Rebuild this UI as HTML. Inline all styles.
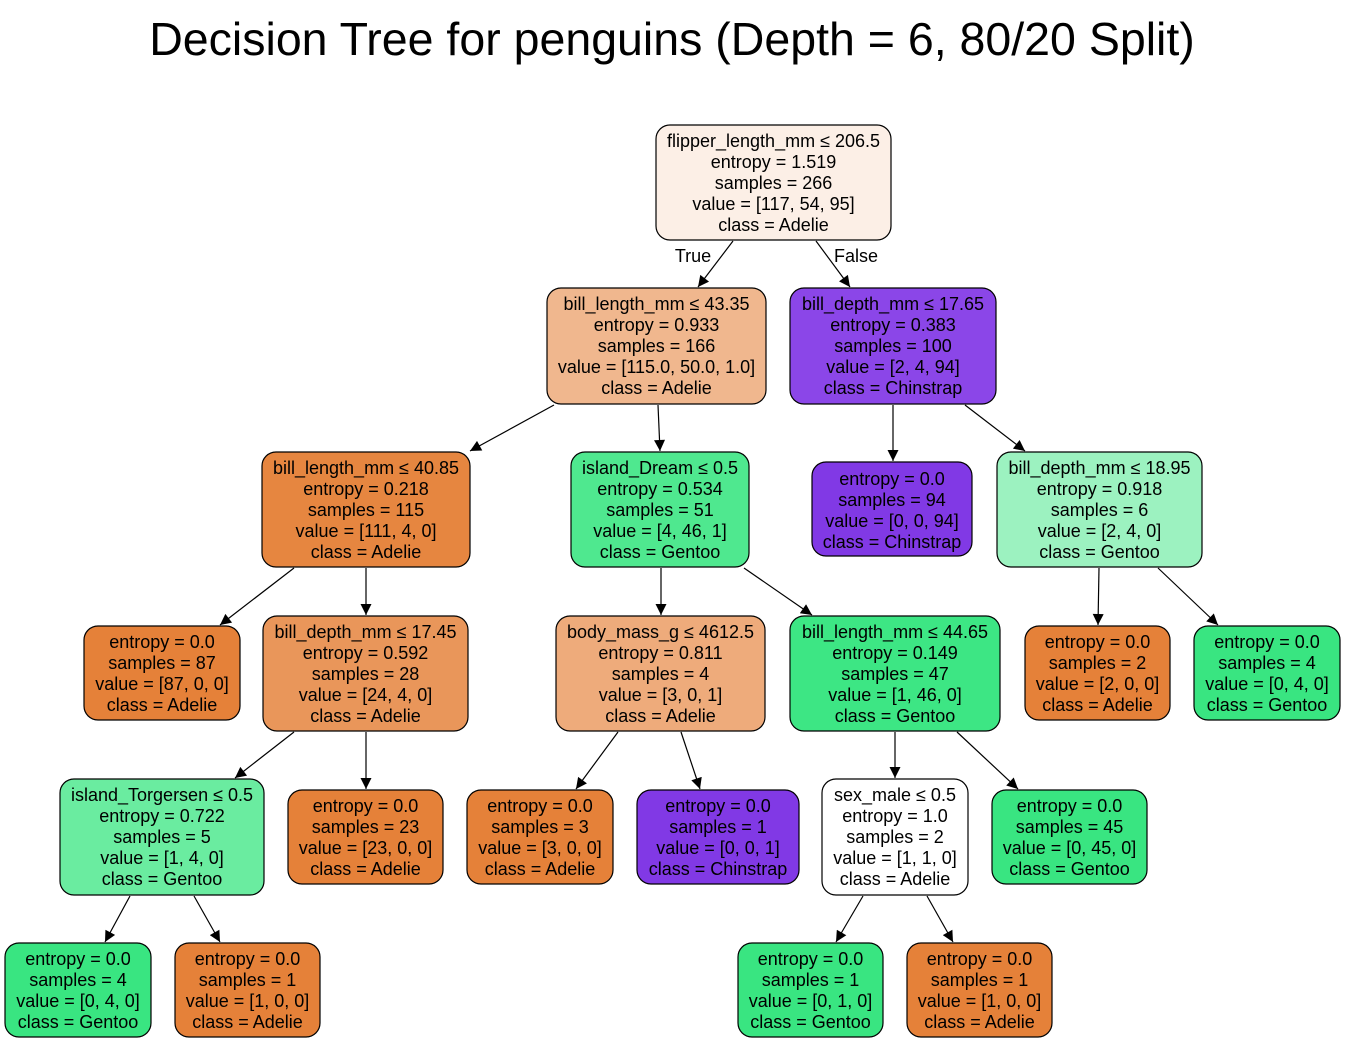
<!DOCTYPE html>
<html><head><meta charset="utf-8"><style>
html,body{margin:0;padding:0;background:#fff;width:1345px;height:1043px;overflow:hidden}
svg text{font-family:"Liberation Sans",Arial,sans-serif}
.n text{font-size:18px;text-anchor:middle;fill:#000}
rect{stroke:#000;stroke-width:1.2}
line{stroke:#000;stroke-width:1.2}
</style></head><body>
<svg width="1345" height="1043" xmlns="http://www.w3.org/2000/svg">
<defs><marker id="a" viewBox="0 0 10 10" refX="10" refY="5" markerWidth="12" markerHeight="11" markerUnits="userSpaceOnUse" orient="auto"><path d="M0,0 L10,5 L0,10 z" fill="#000"/></marker></defs>
<text x="672" y="55" font-size="46.5" text-anchor="middle">Decision Tree for penguins (Depth = 6, 80/20 Split)</text>
<g>
<line x1="733" y1="241" x2="698" y2="287" marker-end="url(#a)"/>
<line x1="816" y1="241" x2="850" y2="287" marker-end="url(#a)"/>
<line x1="554" y1="405" x2="470" y2="451" marker-end="url(#a)"/>
<line x1="658" y1="405" x2="660" y2="451" marker-end="url(#a)"/>
<line x1="893" y1="405" x2="893" y2="461" marker-end="url(#a)"/>
<line x1="965" y1="405" x2="1025" y2="451" marker-end="url(#a)"/>
<line x1="294" y1="568" x2="220" y2="625" marker-end="url(#a)"/>
<line x1="366" y1="568" x2="366" y2="615" marker-end="url(#a)"/>
<line x1="661" y1="568" x2="661" y2="615" marker-end="url(#a)"/>
<line x1="744" y1="568" x2="812" y2="615" marker-end="url(#a)"/>
<line x1="1099" y1="568" x2="1098" y2="625" marker-end="url(#a)"/>
<line x1="1158" y1="568" x2="1218" y2="625" marker-end="url(#a)"/>
<line x1="294" y1="732" x2="235" y2="778" marker-end="url(#a)"/>
<line x1="366" y1="732" x2="366" y2="789" marker-end="url(#a)"/>
<line x1="618" y1="732" x2="576" y2="789" marker-end="url(#a)"/>
<line x1="681" y1="732" x2="700" y2="789" marker-end="url(#a)"/>
<line x1="895" y1="732" x2="895" y2="778" marker-end="url(#a)"/>
<line x1="957" y1="732" x2="1018" y2="789" marker-end="url(#a)"/>
<line x1="130" y1="896" x2="105" y2="942" marker-end="url(#a)"/>
<line x1="194" y1="896" x2="220" y2="942" marker-end="url(#a)"/>
<line x1="863" y1="896" x2="836" y2="942" marker-end="url(#a)"/>
<line x1="927" y1="896" x2="953" y2="942" marker-end="url(#a)"/>
</g>
<text x="693" y="262" font-size="18" text-anchor="middle">True</text>
<text x="856" y="262" font-size="18" text-anchor="middle">False</text>

<g class="n">
<rect x="656" y="125" width="235" height="115" rx="14" fill="#fcefe6"/>
<text x="773.5" y="147">flipper_length_mm ≤ 206.5</text><text x="773.5" y="168">entropy = 1.519</text><text x="773.5" y="189">samples = 266</text><text x="773.5" y="210">value = [117, 54, 95]</text><text x="773.5" y="231">class = Adelie</text>

<rect x="547" y="288" width="219" height="116" rx="14" fill="#f0b78e"/>
<text x="656.5" y="310">bill_length_mm ≤ 43.35</text><text x="656.5" y="331">entropy = 0.933</text><text x="656.5" y="352">samples = 166</text><text x="656.5" y="373">value = [115.0, 50.0, 1.0]</text><text x="656.5" y="394">class = Adelie</text>

<rect x="790" y="288" width="206" height="116" rx="14" fill="#8b46e8"/>
<text x="893" y="310">bill_depth_mm ≤ 17.65</text><text x="893" y="331">entropy = 0.383</text><text x="893" y="352">samples = 100</text><text x="893" y="373">value = [2, 4, 94]</text><text x="893" y="394">class = Chinstrap</text>

<rect x="262" y="452" width="208" height="115" rx="14" fill="#e68640"/>
<text x="366" y="474">bill_length_mm ≤ 40.85</text><text x="366" y="495">entropy = 0.218</text><text x="366" y="516">samples = 115</text><text x="366" y="537">value = [111, 4, 0]</text><text x="366" y="558">class = Adelie</text>

<rect x="571" y="452" width="178" height="115" rx="14" fill="#4fe88f"/>
<text x="660" y="474">island_Dream ≤ 0.5</text><text x="660" y="495">entropy = 0.534</text><text x="660" y="516">samples = 51</text><text x="660" y="537">value = [4, 46, 1]</text><text x="660" y="558">class = Gentoo</text>

<rect x="812" y="462" width="160" height="94" rx="14" fill="#8139e5"/>
<text x="892" y="485">entropy = 0.0</text><text x="892" y="506">samples = 94</text><text x="892" y="527">value = [0, 0, 94]</text><text x="892" y="548">class = Chinstrap</text>

<rect x="997" y="452" width="205" height="115" rx="14" fill="#9cf2c0"/>
<text x="1099.5" y="474">bill_depth_mm ≤ 18.95</text><text x="1099.5" y="495">entropy = 0.918</text><text x="1099.5" y="516">samples = 6</text><text x="1099.5" y="537">value = [2, 4, 0]</text><text x="1099.5" y="558">class = Gentoo</text>

<rect x="84" y="626" width="156" height="94" rx="14" fill="#e58139"/>
<text x="162" y="648">entropy = 0.0</text><text x="162" y="669">samples = 87</text><text x="162" y="690">value = [87, 0, 0]</text><text x="162" y="711">class = Adelie</text>

<rect x="263" y="616" width="205" height="115" rx="14" fill="#e9965a"/>
<text x="365.5" y="638">bill_depth_mm ≤ 17.45</text><text x="365.5" y="659">entropy = 0.592</text><text x="365.5" y="680">samples = 28</text><text x="365.5" y="701">value = [24, 4, 0]</text><text x="365.5" y="722">class = Adelie</text>

<rect x="556" y="616" width="209" height="115" rx="14" fill="#eeab7b"/>
<text x="660.5" y="638">body_mass_g ≤ 4612.5</text><text x="660.5" y="659">entropy = 0.811</text><text x="660.5" y="680">samples = 4</text><text x="660.5" y="701">value = [3, 0, 1]</text><text x="660.5" y="722">class = Adelie</text>

<rect x="790" y="616" width="210" height="115" rx="14" fill="#3de684"/>
<text x="895" y="638">bill_length_mm ≤ 44.65</text><text x="895" y="659">entropy = 0.149</text><text x="895" y="680">samples = 47</text><text x="895" y="701">value = [1, 46, 0]</text><text x="895" y="722">class = Gentoo</text>

<rect x="1025" y="626" width="145" height="94" rx="14" fill="#e58139"/>
<text x="1097.5" y="648">entropy = 0.0</text><text x="1097.5" y="669">samples = 2</text><text x="1097.5" y="690">value = [2, 0, 0]</text><text x="1097.5" y="711">class = Adelie</text>

<rect x="1194" y="626" width="146" height="94" rx="14" fill="#39e581"/>
<text x="1267" y="648">entropy = 0.0</text><text x="1267" y="669">samples = 4</text><text x="1267" y="690">value = [0, 4, 0]</text><text x="1267" y="711">class = Gentoo</text>

<rect x="60" y="779" width="204" height="116" rx="14" fill="#6aeca0"/>
<text x="162" y="801">island_Torgersen ≤ 0.5</text><text x="162" y="822">entropy = 0.722</text><text x="162" y="843">samples = 5</text><text x="162" y="864">value = [1, 4, 0]</text><text x="162" y="885">class = Gentoo</text>

<rect x="288" y="790" width="155" height="94" rx="14" fill="#e58139"/>
<text x="365.5" y="812">entropy = 0.0</text><text x="365.5" y="833">samples = 23</text><text x="365.5" y="854">value = [23, 0, 0]</text><text x="365.5" y="875">class = Adelie</text>

<rect x="467" y="790" width="146" height="94" rx="14" fill="#e58139"/>
<text x="540" y="812">entropy = 0.0</text><text x="540" y="833">samples = 3</text><text x="540" y="854">value = [3, 0, 0]</text><text x="540" y="875">class = Adelie</text>

<rect x="637" y="790" width="162" height="94" rx="14" fill="#8139e5"/>
<text x="718" y="812">entropy = 0.0</text><text x="718" y="833">samples = 1</text><text x="718" y="854">value = [0, 0, 1]</text><text x="718" y="875">class = Chinstrap</text>

<rect x="822" y="779" width="146" height="116" rx="14" fill="#ffffff"/>
<text x="895" y="801">sex_male ≤ 0.5</text><text x="895" y="822">entropy = 1.0</text><text x="895" y="843">samples = 2</text><text x="895" y="864">value = [1, 1, 0]</text><text x="895" y="885">class = Adelie</text>

<rect x="992" y="790" width="155" height="94" rx="14" fill="#39e581"/>
<text x="1069.5" y="812">entropy = 0.0</text><text x="1069.5" y="833">samples = 45</text><text x="1069.5" y="854">value = [0, 45, 0]</text><text x="1069.5" y="875">class = Gentoo</text>

<rect x="5" y="943" width="146" height="94" rx="14" fill="#39e581"/>
<text x="78" y="965">entropy = 0.0</text><text x="78" y="986">samples = 4</text><text x="78" y="1007">value = [0, 4, 0]</text><text x="78" y="1028">class = Gentoo</text>

<rect x="175" y="943" width="145" height="94" rx="14" fill="#e58139"/>
<text x="247.5" y="965">entropy = 0.0</text><text x="247.5" y="986">samples = 1</text><text x="247.5" y="1007">value = [1, 0, 0]</text><text x="247.5" y="1028">class = Adelie</text>

<rect x="738" y="943" width="145" height="94" rx="14" fill="#39e581"/>
<text x="810.5" y="965">entropy = 0.0</text><text x="810.5" y="986">samples = 1</text><text x="810.5" y="1007">value = [0, 1, 0]</text><text x="810.5" y="1028">class = Gentoo</text>

<rect x="907" y="943" width="145" height="94" rx="14" fill="#e58139"/>
<text x="979.5" y="965">entropy = 0.0</text><text x="979.5" y="986">samples = 1</text><text x="979.5" y="1007">value = [1, 0, 0]</text><text x="979.5" y="1028">class = Adelie</text>
</g>
</svg>
</body></html>
